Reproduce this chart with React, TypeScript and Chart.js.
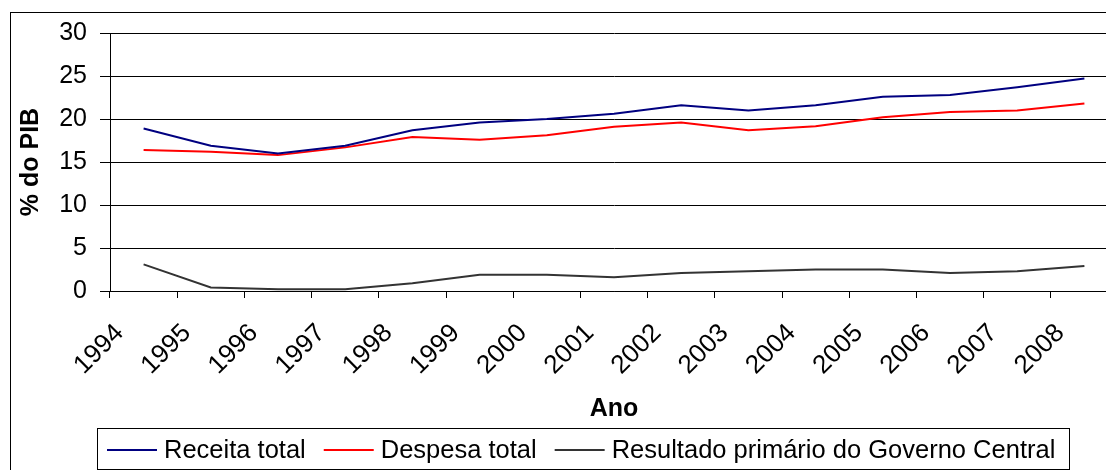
import { useEffect, useRef } from 'react';
import { Chart, registerables } from 'chart.js';

Chart.register(...registerables);

const years = ['1994', '1995', '1996', '1997', '1998', '1999', '2000', '2001', '2002', '2003', '2004', '2005', '2006', '2007', '2008'];
const receitaTotal = [18.9, 16.9, 16.0, 16.9, 18.7, 19.6, 20.0, 20.6, 21.6, 21.0, 21.6, 22.6, 22.8, 23.7, 24.7];
const despesaTotal = [16.4, 16.2, 15.8, 16.7, 17.9, 17.6, 18.1, 19.1, 19.6, 18.7, 19.15, 20.2, 20.8, 21.0, 21.8];
const resultadoPrimario = [3.1, 0.4, 0.2, 0.2, 0.9, 1.9, 1.9, 1.6, 2.1, 2.3, 2.5, 2.5, 2.1, 2.3, 2.9];
const seriesLabels = ['Receita total', 'Despesa total', 'Resultado primário do Governo Central'];
const seriesColors = ['#000080', '#ff0000', '#333333'];
const yMin = 0;
const yMax = 30;
const yStep = 5;
const xTitle = 'Ano';
const yTitle = '% do PIB';

const FONT = '"Liberation Sans", Arial, sans-serif';
const CW = 1170;
const CH = 470;

const framePlugin = {
  id: 'frame',
  beforeDraw(chart: any) {
    const ctx = chart.ctx;
    ctx.save();
    ctx.fillStyle = '#ffffff';
    ctx.fillRect(0, 0, chart.width, chart.height);
    ctx.strokeStyle = '#000000';
    ctx.lineWidth = 1;
    ctx.strokeRect(10.5, 12.5, chart.width - 21, chart.height + 20);
    ctx.restore();
  },
};

const boxLegendPlugin = {
  id: 'boxLegend',
  afterDraw(chart: any) {
    const ctx = chart.ctx;
    ctx.save();
    ctx.font = `25.5px ${FONT}`;
    ctx.textBaseline = 'middle';
    ctx.textAlign = 'left';
    const boxLeft = 97.5;
    const boxTop = 428.5;
    const boxBottom = 469.5;
    const cy = 450;
    let x = 107;
    chart.data.datasets.forEach((ds: any, i: number) => {
      ctx.strokeStyle = ds.borderColor;
      ctx.lineWidth = 2;
      ctx.beginPath();
      ctx.moveTo(x, cy);
      ctx.lineTo(x + 50, cy);
      ctx.stroke();
      ctx.fillStyle = '#000000';
      ctx.fillText(ds.label, x + 57, cy + 1);
      const w = ctx.measureText(ds.label).width;
      x = x + 57 + w + (i < chart.data.datasets.length - 1 ? 18 : 0);
    });
    const boxRight = Math.round(x + 14) + 0.5;
    ctx.strokeStyle = '#000000';
    ctx.lineWidth = 1;
    ctx.strokeRect(boxLeft, boxTop, boxRight - boxLeft, boxBottom - boxTop);
    ctx.restore();
  },
};

export default function App() {
  const ref = useRef<HTMLCanvasElement | null>(null);

  useEffect(() => {
    if (!ref.current) return;
    const values = [receitaTotal, despesaTotal, resultadoPrimario];
    const chart = new Chart(ref.current, {
      type: 'line',
      data: {
        labels: years,
        datasets: values.map((v, i) => ({
          label: seriesLabels[i],
          data: v,
          borderColor: seriesColors[i],
          backgroundColor: seriesColors[i],
          borderWidth: 2,
          pointRadius: 0,
          tension: 0,
          fill: false,
        })),
      },
      options: {
        responsive: false,
        animation: false,
        events: [],
        layout: { padding: { top: 33, left: 0, right: 52, bottom: 44 } },
        plugins: {
          legend: { display: false },
          tooltip: { enabled: false },
        },
        scales: {
          x: {
            type: 'category',
            offset: true,
            grid: {
              offset: true,
              drawOnChartArea: false,
              drawTicks: true,
              tickLength: 7,
              color: '#000000',
              lineWidth: 1,
            },
            border: { display: true, color: '#000000', width: 1 },
            ticks: {
              autoSkip: false,
              minRotation: 45,
              maxRotation: 45,
              padding: 20,
              labelOffset: -24,
              color: '#000000',
              font: { family: FONT, size: 26 },
            },
            title: {
              display: true,
              text: xTitle,
              color: '#000000',
              font: { family: FONT, size: 25, weight: 'bold' },
              padding: { top: 0, bottom: 2 },
            },
            afterFit(scale: any) {
              scale.height = 135;
            },
          },
          y: {
            min: yMin,
            max: yMax,
            ticks: {
              stepSize: yStep,
              padding: 13,
              color: '#000000',
              font: { family: FONT, size: 25 },
            },
            grid: {
              color: '#000000',
              lineWidth: 1,
              tickLength: 10,
              drawTicks: true,
            },
            border: { display: true, color: '#000000', width: 1 },
            title: {
              display: true,
              text: yTitle,
              color: '#000000',
              font: { family: FONT, size: 25, weight: 'bold' },
              padding: { top: 16, bottom: 0 },
            },
            afterFit(scale: any) {
              scale.width = 110;
            },
          },
        },
      },
      plugins: [framePlugin, boxLegendPlugin],
    });
    return () => chart.destroy();
  }, []);

  return (
    <div
      style={{
        position: 'fixed',
        left: 0,
        top: 0,
        width: 1106,
        height: 470,
        overflow: 'hidden',
        background: '#ffffff',
      }}
    >
      <canvas
        ref={ref}
        width={CW}
        height={CH}
        style={{ display: 'block', width: CW, height: CH }}
      />
    </div>
  );
}
